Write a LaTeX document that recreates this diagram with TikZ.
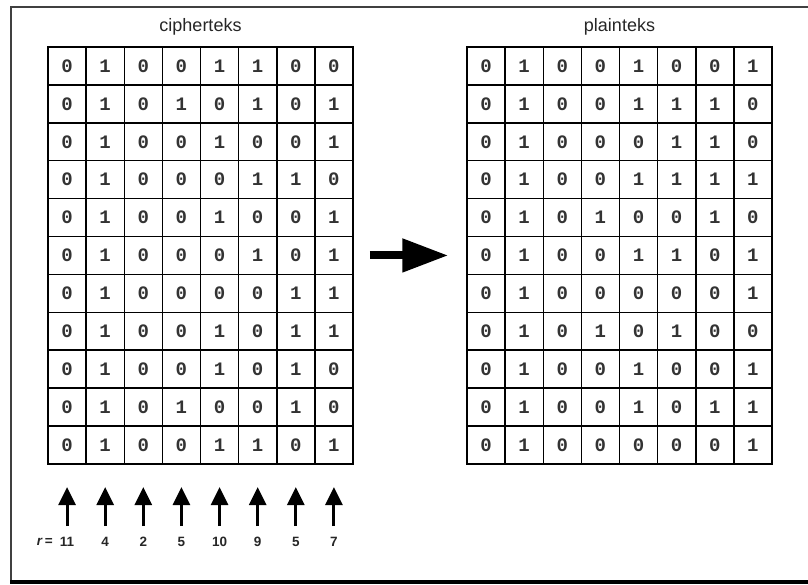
\documentclass[tikz,border=0pt]{standalone}
\usepackage{fontspec}
\setmainfont{Liberation Sans}
\newfontfamily\digitfont{Liberation Mono}
\usetikzlibrary{arrows.meta}
\begin{document}
\begin{tikzpicture}[x=1pt,y=-1pt,
  cell/.style={draw=black,line width=1.5pt,minimum width=38.125pt,minimum height=37.9pt,inner sep=0pt,text=black!80,font=\digitfont\bfseries\fontsize{19}{19}\selectfont},
  title/.style={font=\fontsize{18}{18}\selectfont,text=black!85},
  rval/.style={font=\bfseries\fontsize{13.5}{13.5}\selectfont,text=black!85,inner sep=2pt},
  uparrow/.style={line width=3pt,-{Triangle[length=18pt,width=17pt]}},
  bigarrow/.style={line width=8pt,-{Triangle[length=46pt,width=32pt]}}]
\useasboundingbox (0,0) rectangle (808,584);
% frame
\draw[line width=2pt,black!75] (808,7) -- (11,7) -- (11,582);
\draw[line width=3.5pt,black] (10,582) -- (808,582);
% titles
\node[title] (t1) at (200.5,27) {cipherteks};
\node[title] (t2) at (619.5,27) {plainteks};
% cipher grid
\foreach \row [count=\i] in {{0,1,0,0,1,1,0,0},{0,1,0,1,0,1,0,1},{0,1,0,0,1,0,0,1},{0,1,0,0,0,1,1,0},{0,1,0,0,1,0,0,1},{0,1,0,0,0,1,0,1},{0,1,0,0,0,0,1,1},{0,1,0,0,1,0,1,1},{0,1,0,0,1,0,1,0},{0,1,0,1,0,0,1,0},{0,1,0,0,1,1,0,1}}{
  \foreach \v [count=\j] in \row {
    \node[cell] (c-\i-\j) at ({48+(\j-0.5)*38.125},{47+(\i-0.5)*37.9}) {\v};
  }
}
% plain grid
\foreach \row [count=\i] in {{0,1,0,0,1,0,0,1},{0,1,0,0,1,1,1,0},{0,1,0,0,0,1,1,0},{0,1,0,0,1,1,1,1},{0,1,0,1,0,0,1,0},{0,1,0,0,1,1,0,1},{0,1,0,0,0,0,0,1},{0,1,0,1,0,1,0,0},{0,1,0,0,1,0,0,1},{0,1,0,0,1,0,1,1},{0,1,0,0,0,0,0,1}}{
  \foreach \v [count=\j] in \row {
    \node[cell] (p-\i-\j) at ({467+(\j-0.5)*38.125},{47+(\i-0.5)*37.9}) {\v};
  }
}
% big arrow
\draw[bigarrow,shorten <=16pt,shorten >=18pt] (c-6-8.east) -- (p-6-1.west);
% r values
\node[rval,anchor=east] (rlab) at (55,542) {\textit{r}\,=};
\foreach \r [count=\j] in {11,4,2,5,10,9,5,7}{
  \node[rval] (r\j) at ({48+(\j-0.5)*38.125},542) {\r};
  \coordinate (a\j) at ({48+(\j-0.5)*38.125},487);
  \draw[uparrow,shorten <=9pt] (r\j.north) -- (a\j);
}
\end{tikzpicture}
\end{document}
